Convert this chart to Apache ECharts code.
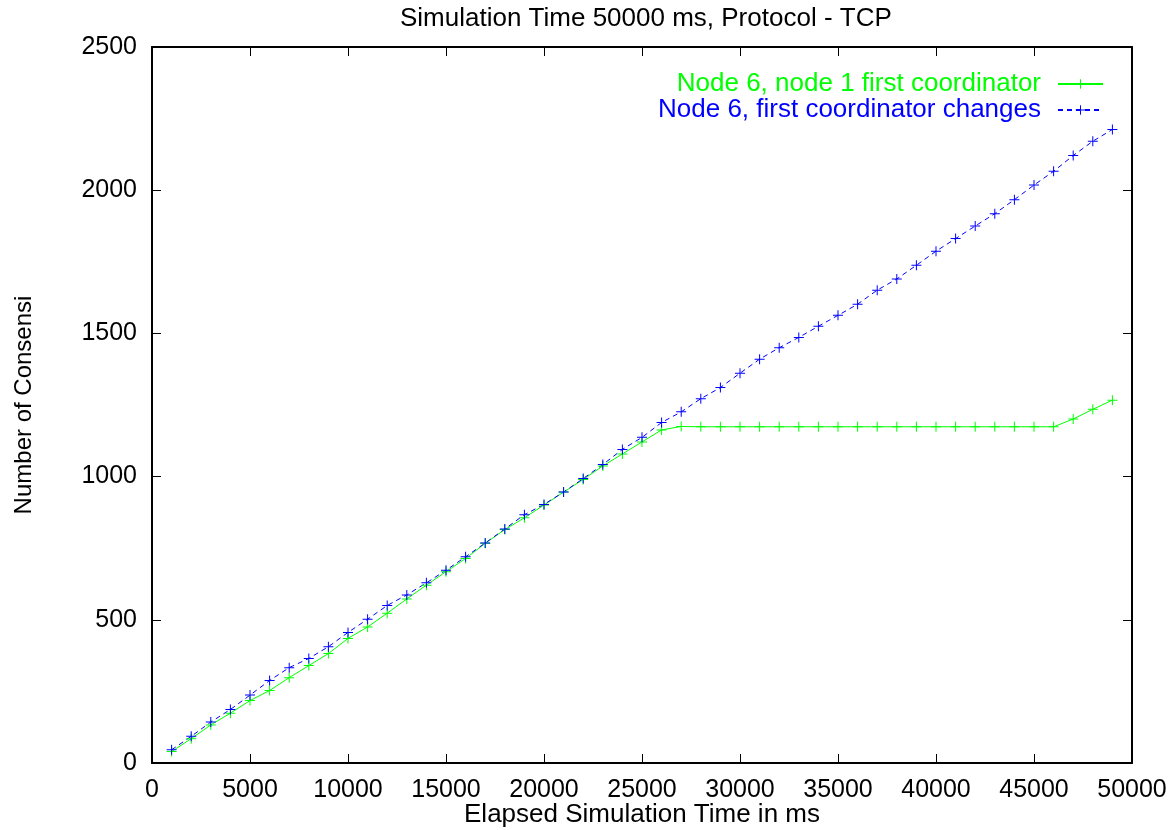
<!DOCTYPE html>
<html>
<head>
<meta charset="utf-8">
<title>Simulation Time 50000 ms, Protocol - TCP</title>
<script src="https://cdn.jsdelivr.net/npm/echarts@6/dist/echarts.min.js"></script>
<style>
  html, body { margin: 0; padding: 0; background: #fff; }
  #chart { width: 1172px; height: 830px; }
</style>
</head>
<body>
<div id="chart"></div>
<script>
// elapsed time (ms) of each sample
var elapsedMs = [
    1000, 2000, 3000, 4000, 5000, 6000, 7000, 8000, 9000, 10000,
    11000, 12000, 13000, 14000, 15000, 16000, 17000, 18000, 19000, 20000,
    21000, 22000, 23000, 24000, 25000, 26000, 27000, 28000, 29000, 30000,
    31000, 32000, 33000, 34000, 35000, 36000, 37000, 38000, 39000, 40000,
    41000, 42000, 43000, 44000, 45000, 46000, 47000, 48000, 49000
];
// Node 6, node 1 first coordinator
var fixedCoord = [
    40, 85, 133, 174, 218, 253, 298, 340, 382, 435,
    475, 523, 573, 621, 668, 714, 767, 815, 856, 901,
    946, 990, 1037, 1079, 1121, 1163, 1175, 1174, 1174, 1174,
    1174, 1174, 1174, 1174, 1174, 1174, 1174, 1174, 1174, 1174,
    1174, 1174, 1174, 1174, 1174, 1174, 1201, 1235, 1267
];
// Node 6, first coordinator changes
var changingCoord = [
    46, 93, 143, 187, 237, 288, 333, 365, 406, 456,
    502, 550, 587, 629, 673, 720, 768, 817, 867, 903,
    946, 993, 1042, 1095, 1137, 1189, 1226, 1272, 1311, 1361,
    1410, 1450, 1486, 1525, 1563, 1602, 1651, 1690, 1738, 1787,
    1831, 1875, 1918, 1967, 2018, 2066, 2121, 2171, 2212
];
var seriesNames = ['Node 6, node 1 first coordinator', 'Node 6, first coordinator changes'];
var xTicks = { min: 0, max: 50000, step: 5000 };
var yTicks = { min: 0, max: 2500, step: 500 };

var FONT = 'Liberation Sans';
var GREEN = '#00ff00';
var BLUE = '#0000ff';
// gnuplot style "+" point
var PLUS = 'path://M0,4.5H10V5.5H0Z M4.5,0H5.5V10H4.5Z';

function pairs(xs, ys) {
    var out = [];
    for (var i = 0; i < xs.length; i++) {
        out.push([xs[i], ys[i]]);
    }
    return out;
}

// plain numbers, no thousands separator
function plain(v) {
    return String(v);
}

function axisBase(range, pos) {
    return {
        type: 'value',
        position: pos,
        min: range.min,
        max: range.max,
        interval: range.step,
        axisLine: { show: true, onZero: false, lineStyle: { color: '#000', width: 2 } },
        axisTick: { show: true, inside: true, length: 9, lineStyle: { color: '#000', width: 1 } },
        splitLine: { show: false }
    };
}

var chart = echarts.init(document.getElementById('chart'));

var xMain = axisBase(xTicks, 'bottom');
xMain.axisLabel = { color: '#000', fontFamily: FONT, fontSize: 25, margin: 15, formatter: plain };
xMain.name = 'Elapsed Simulation Time in ms';
xMain.nameLocation = 'middle';
xMain.nameGap = 39;
xMain.nameMoveOverlap = false;
xMain.nameTextStyle = { color: '#000', fontFamily: FONT, fontSize: 26 };
var xMirror = axisBase(xTicks, 'top');
xMirror.axisLabel = { show: false };

var yMain = axisBase(yTicks, 'left');
yMain.axisLabel = { color: '#000', fontFamily: FONT, fontSize: 25, margin: 15, formatter: plain };
yMain.name = 'Number of Consensi';
yMain.nameLocation = 'middle';
yMain.nameGap = 116;
yMain.nameMoveOverlap = false;
yMain.nameTextStyle = { color: '#000', fontFamily: FONT, fontSize: 24 };
var yMirror = axisBase(yTicks, 'right');
yMirror.axisLabel = { show: false };

var option = {
    animation: false,
    backgroundColor: '#fff',
    title: {
        text: 'Simulation Time 50000 ms, Protocol - TCP',
        left: 395,
        top: 1,
        textStyle: { color: '#000', fontFamily: FONT, fontSize: 26, fontWeight: 'normal' }
    },
    grid: { left: 152, right: 40, top: 47, bottom: 67, containLabel: false, outerBoundsMode: 'none' },
    legend: {
        orient: 'vertical',
        align: 'right',
        right: 63,
        top: 66,
        itemGap: 0,
        itemWidth: 45,
        itemHeight: 12,
        data: [
            { name: seriesNames[0], textStyle: { color: GREEN } },
            { name: seriesNames[1], textStyle: { color: BLUE } }
        ],
        textStyle: { fontFamily: FONT, fontSize: 26, lineHeight: 26, padding: [0, 12, 0, 0] }
    },
    xAxis: [xMain, xMirror],
    yAxis: [yMain, yMirror],
    series: [
        {
            name: seriesNames[0],
            type: 'line',
            xAxisIndex: 0,
            yAxisIndex: 0,
            data: pairs(elapsedMs, fixedCoord),
            symbol: PLUS,
            symbolSize: 10,
            showAllSymbol: true,
            itemStyle: { color: GREEN },
            lineStyle: { color: GREEN, width: 1 }
        },
        {
            name: seriesNames[1],
            type: 'line',
            xAxisIndex: 0,
            yAxisIndex: 0,
            data: pairs(elapsedMs, changingCoord),
            symbol: PLUS,
            symbolSize: 10,
            showAllSymbol: true,
            itemStyle: { color: BLUE },
            lineStyle: { color: BLUE, width: 1, type: [5, 4] }
        }
    ]
};
chart.setOption(option);
</script>
</body>
</html>
